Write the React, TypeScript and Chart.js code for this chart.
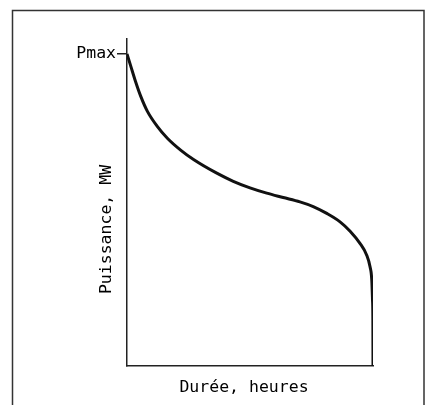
import React, { useEffect, useRef } from "react";
import { Chart, registerables } from "chart.js";

Chart.register(...registerables);

// Load-duration curve (durée in % of period, puissance in % of Pmax)
const dureeValues = [0, 1.5, 3.5, 5.6, 8.3, 12.3, 16.4, 21.8, 27.2, 36.5, 43.2, 50.0, 56.8, 63.5, 70.3, 75.7, 81.2, 86.6, 90.7, 94.7, 97.4, 98.8, 99.5, 99.8, 99.95, 100];
const puissanceValues = [100, 96.2, 91.1, 86.4, 81.6, 76.8, 73.0, 69.2, 66.1, 61.8, 59.2, 57.1, 55.4, 54.0, 52.6, 51.1, 48.9, 46.2, 43.2, 39.3, 35.6, 31.8, 27.6, 21.2, 14.7, 0];
const yTickValues = [100];
const yTickLabels = ["Pmax"];
const xTitle = "Durée, heures";
const yTitle = "Puissance, MW";

const FONT = "16.5px 'DejaVu Sans Mono'";

export default function App() {
  const ref = useRef<HTMLCanvasElement | null>(null);
  useEffect(() => {
    if (!ref.current) return;
    const framePlugin = {
      id: "frame",
      beforeDraw(chart: any) {
        const ctx = chart.ctx;
        ctx.save();
        ctx.fillStyle = "#fff";
        ctx.fillRect(0, 0, chart.width, chart.height);
        ctx.strokeStyle = "#333";
        ctx.lineWidth = 1.5;
        ctx.strokeRect(12.5, 10.5, 411.5, 420);
        ctx.restore();
      },
      afterDraw(chart: any) {
        const ctx = chart.ctx;
        const a = chart.chartArea;
        ctx.save();
        ctx.fillStyle = "#000";
        ctx.font = FONT;
        ctx.textAlign = "center";
        ctx.textBaseline = "middle";
        ctx.fillText(xTitle, (a.left + a.right) / 2 - 6, a.bottom + 22);
        ctx.translate(a.left - 20, (a.top + a.bottom) / 2 + 27);
        ctx.rotate(-Math.PI / 2);
        ctx.fillText(yTitle, 0, 0);
        ctx.restore();
      },
    };
    const chart = new Chart(ref.current, {
      type: "scatter",
      data: {
        datasets: [
          {
            data: dureeValues.map((x, i) => ({ x, y: puissanceValues[i] })),
            showLine: true,
            borderColor: "#111",
            borderWidth: 3,
            pointRadius: 0,
            cubicInterpolationMode: "monotone",
            fill: false,
          },
        ],
      },
      options: {
        responsive: false,
        animation: false,
        layout: { padding: { top: 39, right: 52, left: 0, bottom: 0 } },
        plugins: { legend: { display: false }, tooltip: { enabled: false } },
        scales: {
          x: {
            type: "linear",
            min: 0,
            max: 100,
            border: { display: true, color: "#222", width: 1.5 },
            grid: { display: false, drawTicks: false },
            ticks: { display: false },
            afterFit(scale: any) {
              scale.height = 39;
            },
          },
          y: {
            type: "linear",
            min: 0,
            max: 104.8,
            border: { display: true, color: "#222", width: 1.5 },
            grid: { drawOnChartArea: false, drawTicks: true, tickLength: 10, color: "#222", lineWidth: 1.5 },
            afterBuildTicks(scale: any) {
              scale.ticks = yTickValues.map((v) => ({ value: v }));
            },
            ticks: {
              padding: 1,
              color: "#000",
              font: { family: "'DejaVu Sans Mono'", size: 16.5 },
              callback: (v: any) => {
                const i = yTickValues.indexOf(Number(v));
                return i >= 0 ? yTickLabels[i] : "";
              },
            },
            afterFit(scale: any) {
              scale.width = 127;
            },
          },
        },
      },
      plugins: [framePlugin],
    } as any);
    return () => chart.destroy();
  }, []);
  return (
    <div style={{ position: "fixed", left: 0, top: 0, width: 425, height: 405 }}>
      <canvas ref={ref} width={425} height={405} style={{ width: 425, height: 405, display: "block" }} />
    </div>
  );
}
